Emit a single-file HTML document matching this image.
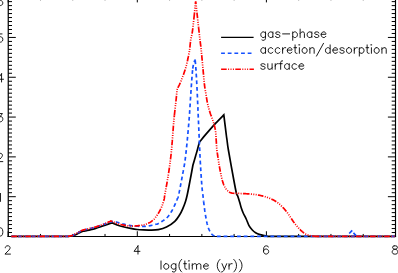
<!DOCTYPE html>
<html><head><meta charset="utf-8"><title>plot</title>
<style>html,body{margin:0;padding:0;background:#fff;font-family:"Liberation Sans",sans-serif}svg{display:block}</style>
</head><body>
<svg width="398" height="273" viewBox="0 0 398 273">
<rect width="398" height="273" fill="#fff"/>
<g stroke="#000" fill="none" stroke-linecap="butt">
<path d="M8.25 -5V237.00" stroke-width="1.2"/>
<path d="M7.55 236.45H396.08" stroke-width="1.1"/>
<path d="M395.50 -5V237.00" stroke-width="1.15"/>
<path d="M8.20 236.50h7.60M395.50 236.50h-7.60M8.20 232.52h3.80M395.50 232.52h-3.80M8.20 228.54h3.80M395.50 228.54h-3.80M8.20 224.56h3.80M395.50 224.56h-3.80M8.20 220.58h3.80M395.50 220.58h-3.80M8.20 216.59h3.80M395.50 216.59h-3.80M8.20 212.61h3.80M395.50 212.61h-3.80M8.20 208.63h3.80M395.50 208.63h-3.80M8.20 204.65h3.80M395.50 204.65h-3.80M8.20 200.67h3.80M395.50 200.67h-3.80M8.20 196.69h7.60M395.50 196.69h-7.60M8.20 192.71h3.80M395.50 192.71h-3.80M8.20 188.73h3.80M395.50 188.73h-3.80M8.20 184.75h3.80M395.50 184.75h-3.80M8.20 180.77h3.80M395.50 180.77h-3.80M8.20 176.78h3.80M395.50 176.78h-3.80M8.20 172.80h3.80M395.50 172.80h-3.80M8.20 168.82h3.80M395.50 168.82h-3.80M8.20 164.84h3.80M395.50 164.84h-3.80M8.20 160.86h3.80M395.50 160.86h-3.80M8.20 156.88h7.60M395.50 156.88h-7.60M8.20 152.90h3.80M395.50 152.90h-3.80M8.20 148.92h3.80M395.50 148.92h-3.80M8.20 144.94h3.80M395.50 144.94h-3.80M8.20 140.96h3.80M395.50 140.96h-3.80M8.20 136.97h3.80M395.50 136.97h-3.80M8.20 132.99h3.80M395.50 132.99h-3.80M8.20 129.01h3.80M395.50 129.01h-3.80M8.20 125.03h3.80M395.50 125.03h-3.80M8.20 121.05h3.80M395.50 121.05h-3.80M8.20 117.07h7.60M395.50 117.07h-7.60M8.20 113.09h3.80M395.50 113.09h-3.80M8.20 109.11h3.80M395.50 109.11h-3.80M8.20 105.13h3.80M395.50 105.13h-3.80M8.20 101.15h3.80M395.50 101.15h-3.80M8.20 97.16h3.80M395.50 97.16h-3.80M8.20 93.18h3.80M395.50 93.18h-3.80M8.20 89.20h3.80M395.50 89.20h-3.80M8.20 85.22h3.80M395.50 85.22h-3.80M8.20 81.24h3.80M395.50 81.24h-3.80M8.20 77.26h7.60M395.50 77.26h-7.60M8.20 73.28h3.80M395.50 73.28h-3.80M8.20 69.30h3.80M395.50 69.30h-3.80M8.20 65.32h3.80M395.50 65.32h-3.80M8.20 61.34h3.80M395.50 61.34h-3.80M8.20 57.35h3.80M395.50 57.35h-3.80M8.20 53.37h3.80M395.50 53.37h-3.80M8.20 49.39h3.80M395.50 49.39h-3.80M8.20 45.41h3.80M395.50 45.41h-3.80M8.20 41.43h3.80M395.50 41.43h-3.80M8.20 37.45h7.60M395.50 37.45h-7.60M8.20 33.47h3.80M395.50 33.47h-3.80M8.20 29.49h3.80M395.50 29.49h-3.80M8.20 25.51h3.80M395.50 25.51h-3.80M8.20 21.53h3.80M395.50 21.53h-3.80M8.20 17.54h3.80M395.50 17.54h-3.80M8.20 13.56h3.80M395.50 13.56h-3.80M8.20 9.58h3.80M395.50 9.58h-3.80M8.20 5.60h3.80M395.50 5.60h-3.80M8.20 1.62h3.80M395.50 1.62h-3.80M8.20 -2.36h7.60M395.50 -2.36h-7.60M8.20 236.45v-5.20M8.20 -2.60v5.00M40.47 236.45v-2.50M40.47 -2.60v2.85M72.75 236.45v-2.50M72.75 -2.60v2.85M105.02 236.45v-2.50M105.02 -2.60v2.85M137.30 236.45v-5.20M137.30 -2.60v5.00M169.57 236.45v-2.50M169.57 -2.60v2.85M201.85 236.45v-2.50M201.85 -2.60v2.85M234.12 236.45v-2.50M234.12 -2.60v2.85M266.40 236.45v-5.20M266.40 -2.60v5.00M298.67 236.45v-2.50M298.67 -2.60v2.85M330.95 236.45v-2.50M330.95 -2.60v2.85M363.22 236.45v-2.50M363.22 -2.60v2.85M395.50 236.45v-5.20M395.50 -2.60v5.00" stroke-width="1"/>
</g>
<g fill="none" stroke-linejoin="miter" stroke-linecap="butt">
<path d="M11.30 236.35C20.92 236.35 59.38 236.35 69.00 236.35C69.58 236.26 71.48 236.04 72.50 235.80C73.52 235.56 74.18 235.28 75.10 234.90C76.02 234.52 77.17 233.92 78.00 233.50C78.83 233.08 79.25 232.77 80.10 232.40C80.95 232.03 82.03 231.60 83.10 231.30C84.17 231.00 85.32 230.85 86.50 230.60C87.68 230.35 88.78 230.13 90.20 229.80C91.62 229.47 93.37 229.08 95.00 228.60C96.63 228.12 98.40 227.43 100.00 226.90C101.60 226.37 103.10 225.90 104.60 225.40C106.10 224.90 107.75 224.33 109.00 223.90C110.25 223.47 111.58 223.03 112.10 222.85C112.42 222.99 113.05 223.29 114.00 223.70C114.95 224.11 116.10 224.75 117.80 225.30C119.50 225.85 122.07 226.48 124.20 227.00C126.33 227.52 128.47 227.98 130.60 228.40C132.73 228.82 134.85 229.24 137.00 229.50C139.15 229.76 141.33 229.86 143.50 229.95C145.67 230.04 147.53 230.11 150.00 230.05C152.47 229.99 155.55 230.09 158.30 229.60C161.05 229.11 163.75 228.47 166.50 227.10C169.25 225.73 172.60 223.45 174.80 221.40C177.00 219.35 178.33 217.00 179.70 214.80C181.07 212.60 182.03 210.40 183.00 208.20C183.97 206.00 184.80 203.80 185.50 201.60C186.20 199.40 186.58 197.77 187.20 195.00C187.82 192.23 188.55 188.33 189.20 185.00C189.85 181.67 190.48 178.28 191.10 175.00C191.72 171.72 192.60 166.92 192.90 165.30C193.35 163.75 194.82 158.72 195.60 156.00C196.38 153.28 196.97 151.30 197.60 149.00C198.23 146.70 199.10 143.33 199.40 142.20C200.25 141.15 202.82 137.92 204.50 135.90C206.18 133.88 207.58 132.27 209.50 130.10C211.42 127.93 213.62 125.43 216.00 122.90C218.38 120.37 222.50 116.23 223.80 114.90C224.22 118.25 225.77 130.82 226.30 135.00C226.83 139.18 226.65 137.50 227.00 140.00C227.35 142.50 227.27 143.33 228.40 150.00C229.53 156.67 232.47 172.80 233.80 180.00C235.13 187.20 235.75 190.53 236.40 193.20C237.05 195.87 237.17 194.53 237.70 196.00C238.23 197.47 239.00 200.00 239.60 202.00C240.20 204.00 240.70 206.17 241.30 208.00C241.90 209.83 242.38 211.17 243.20 213.00C244.02 214.83 245.23 216.90 246.20 219.00C247.17 221.10 247.98 223.77 249.00 225.60C250.02 227.43 251.20 228.82 252.30 230.00C253.40 231.18 254.32 231.93 255.60 232.70C256.88 233.47 258.53 234.12 260.00 234.60C261.47 235.08 263.07 235.31 264.40 235.60C265.73 235.89 267.40 236.22 268.00 236.35C289.25 236.35 374.25 236.35 395.50 236.35" stroke="#000" stroke-width="1.70"/>
<path d="M11.30 236.35L11.56 236.35L11.82 236.35L12.10 236.35L12.40 236.35L12.70 236.35L13.02 236.35L13.35 236.35L13.69 236.35L14.04 236.35L14.40 236.35L14.78 236.35L15.16 236.35L15.55 236.35L15.96 236.35L16.37 236.35L16.80 236.35L17.23 236.35L17.67 236.35L18.12 236.35L18.59 236.35L19.05 236.35L19.53 236.35L20.02 236.35L20.51 236.35L21.01 236.35L21.52 236.35L22.03 236.35L22.55 236.35L23.08 236.35L23.62 236.35L24.16 236.35L24.71 236.35L25.26 236.35L25.82 236.35L26.38 236.35L26.95 236.35L27.52 236.35L28.10 236.35L28.68 236.35L29.27 236.35L29.86 236.35L30.45 236.35L31.05 236.35L31.65 236.35L32.26 236.35L32.86 236.35L33.47 236.35L34.08 236.35L34.70 236.35L35.31 236.35L35.93 236.35L36.55 236.35L37.17 236.35L37.79 236.35L38.41 236.35L39.03 236.35L39.65 236.35L40.27 236.35L40.89 236.35L41.51 236.35L42.13 236.35L42.75 236.35L43.37 236.35L43.99 236.35L44.60 236.35L45.22 236.35L45.83 236.35L46.44 236.35L47.04 236.35L47.65 236.35L48.25 236.35L48.85 236.35L49.44 236.35L50.03 236.35L50.62 236.35L51.20 236.35L51.78 236.35L52.35 236.35L52.92 236.35L53.48 236.35L54.04 236.35L54.59 236.35L55.14 236.35L55.68 236.35L56.22 236.35L56.75 236.35L57.27 236.35L57.78 236.35L58.29 236.35L58.79 236.35L59.28 236.35L59.77 236.35L60.25 236.35L60.71 236.35L61.18 236.35L61.63 236.35L62.07 236.35L62.50 236.35L62.93 236.35L63.34 236.35L63.75 236.35L64.14 236.35L64.52 236.35L64.90 236.35L65.26 236.35L65.61 236.35L65.95 236.35L66.28 236.35L66.60 236.35L66.90 236.35L67.20 236.35L67.48 236.35L67.74 236.35L68.00 236.35L68.26 236.30L68.63 236.24L69.07 236.17L69.54 236.09L70.00 236.00L70.39 235.93L70.79 235.87L71.21 235.80L71.64 235.72L72.07 235.63L72.50 235.50L72.92 235.35L73.35 235.17L73.77 234.97L74.21 234.76L74.65 234.53L75.10 234.30L75.51 234.09L75.93 233.86L76.36 233.63L76.80 233.39L77.22 233.15L77.63 232.92L78.00 232.70L78.46 232.42L78.85 232.15L79.23 231.90L79.64 231.65L80.10 231.40L80.48 231.22L80.88 231.04L81.30 230.86L81.74 230.68L82.19 230.51L82.64 230.35L83.10 230.20L83.56 230.07L84.03 229.95L84.51 229.83L85.00 229.73L85.50 229.62L86.00 229.52L86.50 229.40L86.94 229.29L87.38 229.19L87.82 229.08L88.26 228.97L88.72 228.86L89.19 228.75L89.68 228.63L90.20 228.50L90.63 228.39L91.09 228.29L91.55 228.17L92.03 228.06L92.52 227.94L93.01 227.82L93.51 227.70L94.01 227.57L94.51 227.44L95.00 227.30L95.45 227.17L95.90 227.03L96.36 226.89L96.82 226.75L97.28 226.60L97.74 226.45L98.20 226.30L98.66 226.15L99.11 226.00L99.56 225.85L100.00 225.70L100.48 225.54L100.96 225.38L101.45 225.21L101.93 225.05L102.40 224.88L102.87 224.72L103.32 224.56L103.76 224.40L104.19 224.25L104.60 224.10L105.09 223.92L105.54 223.75L105.98 223.58L106.40 223.41L106.81 223.25L107.21 223.10L107.60 222.95L108.00 222.80L108.46 222.64L108.92 222.47L109.37 222.32L109.81 222.17L110.23 222.03L110.63 221.91L111.00 221.80L111.50 221.68L111.97 221.58L112.39 221.50L112.74 221.44L113.00 221.40L113.28 221.45L113.65 221.52L114.10 221.60L114.59 221.69L115.11 221.78L115.63 221.89L116.13 221.99L116.60 222.10L117.03 222.21L117.46 222.33L117.88 222.45L118.30 222.58L118.72 222.71L119.14 222.84L119.57 222.97L120.00 223.10L120.43 223.23L120.87 223.35L121.30 223.47L121.74 223.60L122.18 223.72L122.64 223.85L123.11 223.97L123.60 224.10L124.01 224.20L124.44 224.30L124.87 224.41L125.32 224.51L125.77 224.62L126.23 224.72L126.68 224.82L127.13 224.92L127.57 225.01L128.00 225.10L128.46 225.19L128.90 225.28L129.33 225.37L129.75 225.45L130.18 225.53L130.61 225.60L131.05 225.67L131.51 225.74L132.00 225.80L132.41 225.85L132.83 225.89L133.25 225.94L133.68 225.98L134.12 226.01L134.57 226.05L135.03 226.08L135.50 226.11L135.99 226.14L136.49 226.17L137.00 226.20L137.42 226.22L137.85 226.25L138.29 226.27L138.75 226.30L139.21 226.32L139.68 226.35L140.16 226.37L140.64 226.39L141.12 226.40L141.60 226.41L142.08 226.42L142.56 226.42L143.03 226.41L143.50 226.40L143.97 226.38L144.44 226.35L144.92 226.32L145.40 226.28L145.88 226.24L146.36 226.19L146.84 226.14L147.32 226.09L147.79 226.03L148.25 225.97L148.71 225.91" stroke="#1450ff" stroke-width="1.70" stroke-dasharray="3.8 2.9"/>
<path d="M148.71 225.91L149.15 225.84L149.58 225.77L150.00 225.70L150.52 225.60L151.02 225.49L151.52 225.38L152.00 225.25L152.47 225.12L152.93 224.99L153.37 224.86L153.80 224.73L154.21 224.61L154.61 224.50L155.00 224.40L155.52 224.30L155.92 224.27L156.28 224.27L156.63 224.25L157.05 224.16L157.59 223.96L158.30 223.60L158.60 223.43L158.94 223.25L159.30 223.04L159.68 222.82L160.08 222.58L160.50 222.33L160.94 222.07L161.38 221.79L161.83 221.51L162.29 221.21L162.75 220.91L163.22 220.60L163.67 220.29L164.12 219.98L164.56 219.66L164.99 219.35L165.40 219.03L165.79 218.72L166.16 218.41L166.50 218.10L166.88 217.74L167.25 217.37L167.60 217.00L167.93 216.62L168.26 216.24L168.57 215.85L168.87 215.46L169.16 215.07L169.45 214.67L169.72 214.27L169.99 213.87L170.25 213.47L170.51 213.08L170.76 212.68L171.01 212.28L171.26 211.89L171.50 211.50L171.77 211.06L172.03 210.61L172.28 210.17L172.53 209.72L172.76 209.27L172.99 208.82L173.21 208.37L173.42 207.93L173.63 207.48L173.83 207.04L174.03 206.60L174.22 206.17L174.42 205.74L174.61 205.32L174.80 204.90L175.02 204.42L175.23 203.95L175.44 203.47L175.64 203.00L175.83 202.53L176.03 202.07L176.21 201.62L176.39 201.17L176.56 200.73L176.73 200.31L176.89 199.89" stroke="#1450ff" stroke-width="1.70" stroke-dasharray="3.8 2.9"/>
<path d="M176.89 199.89L177.05 199.49L177.20 199.10L177.39 198.66L177.53 198.38L177.65 198.20L177.75 198.03L177.86 197.82L177.99 197.48L178.14 196.95L178.34 196.14L178.60 195.00L178.67 194.70L178.74 194.37L178.81 194.03L178.89 193.67L178.96 193.30L179.05 192.90L179.13 192.49L179.22 192.07L179.31 191.64L179.40 191.19L179.49 190.72L179.59 190.25L179.68 189.77L179.78 189.27L179.88 188.77L179.98 188.26L180.08 187.74L180.19 187.21L180.29 186.68L180.40 186.14L180.50 185.60L180.61 185.05L180.71 184.50L180.82 183.95L180.93 183.40L181.03 182.84L181.14 182.29L181.24 181.74L181.35 181.19L181.45 180.64L181.56 180.10L181.66 179.56L181.76 179.02L181.86 178.49L181.95 177.97L182.05 177.45L182.14 176.94L182.24 176.44L182.33 175.95L182.41 175.47L182.50 175.00L182.59 174.49L182.68 174.00L182.77 173.52L182.86 173.06L182.95 172.60L183.03 172.15L183.12 171.72L183.20 171.29L183.28 170.86L183.36 170.44L183.45 170.03L183.53 169.62L183.60 169.21L183.68 168.80L183.76 168.39L183.84 167.98L183.92 167.57L183.99 167.15L184.07 166.73L184.15 166.30L184.22 165.86L184.30 165.42L184.38 164.96L184.45 164.50L184.53 164.03L184.61 163.54L184.68 163.03L184.76 162.52L184.84 161.98L184.92 161.43L185.00 160.86L185.08 160.28L185.16 159.67L185.25 159.04L185.33 158.38L185.41 157.70L185.50 157.00L185.55 156.62L185.59 156.24L185.64 155.85L185.68 155.45L185.73 155.05L185.78 154.64L185.82 154.23L185.87 153.80L185.92 153.38L185.97 152.95L186.02 152.51L186.06 152.06L186.11 151.62L186.16 151.16L186.21 150.71L186.26 150.24L186.31 149.78L186.36 149.30L186.41 148.83L186.46 148.35L186.51 147.86L186.56 147.38L186.61 146.89L186.66 146.39L186.71 145.89L186.76 145.39L186.81 144.89L186.86 144.38L186.91 143.87L186.97 143.36L187.02 142.84L187.07 142.33L187.12 141.81L187.17 141.29L187.22 140.76L187.27 140.24L187.32 139.71L187.37 139.18L187.42 138.66L187.47 138.13L187.52 137.59L187.57 137.06L187.62 136.53L187.67 136.00L187.72 135.47L187.77 134.93L187.82 134.40L187.87 133.87L187.91 133.33L187.96 132.80L188.01 132.27L188.06 131.74L188.11 131.21L188.15 130.68L188.20 130.15L188.25 129.63L188.29 129.10L188.34 128.58L188.38 128.06L188.43 127.54L188.47 127.02L188.52 126.51L188.56 126.00L188.61 125.49L188.65 124.98L188.69 124.47L188.74 123.97L188.78 123.47L188.82 122.98L188.86 122.49L188.90 122.00L188.94 121.50L188.98 121.00L189.02 120.49L189.06 119.98L189.10 119.47L189.14 118.96L189.18 118.45L189.22 117.93L189.26 117.42L189.30 116.90L189.34 116.38L189.37 115.86L189.41 115.34L189.45 114.81L189.48 114.29L189.52 113.77L189.56 113.24L189.59 112.72L189.63 112.19L189.66 111.67L189.70 111.14L189.74 110.61L189.77 110.09L189.81 109.56L189.84 109.04L189.87 108.51L189.91 107.99L189.94 107.47L189.98 106.94L190.01 106.42L190.04 105.90L190.07 105.38L190.11 104.86L190.14 104.35L190.17 103.83L190.20 103.32L190.24 102.80L190.27 102.29L190.30 101.78L190.33 101.28L190.36 100.77L190.39 100.27L190.43 99.77L190.46 99.28L190.49 98.78L190.52 98.29L190.55 97.80L190.58 97.31L190.61 96.83L190.64 96.35L190.67 95.88L190.70 95.40L190.73 94.93L190.76 94.47L190.79 94.01L190.82 93.55L190.85 93.09L190.88 92.64L190.91 92.20L190.94 91.76L190.97 91.32L191.00 90.89L191.03 90.46L191.05 90.04L191.08 89.62L191.11 89.21L191.14 88.80L191.17 88.40L191.20 88.00L191.25 87.34L191.30 86.69L191.34 86.05L191.39 85.42L191.43 84.79L191.48 84.18L191.52 83.57L191.56 82.97L191.60 82.38L191.65 81.80L191.69 81.23L191.73 80.66L191.77 80.10L191.81 79.55L191.84 79.01L191.88 78.48L191.92 77.96L191.96 77.44L192.00 76.93L192.04 76.43L192.08 75.94L192.11 75.45L192.15 74.97L192.19 74.50L192.23 74.04L192.27 73.58L192.31 73.13L192.34 72.69L192.38 72.26L192.42 71.83L192.46 71.41L192.50 71.00L192.55 70.59L192.59 70.20L192.63 69.81L192.67 69.42L192.72 69.04L192.76 68.67" stroke="#1450ff" stroke-width="1.70" stroke-dasharray="3.8 2.9"/>
<path d="M192.76 68.67L192.81 68.31L192.85 67.95L192.90 67.60L193.02 66.79L193.15 66.03L193.29 65.33L193.43 64.68L193.58 64.07L193.73 63.51L193.88 62.98L194.03 62.50L194.18 62.06L194.33 61.64L194.47 61.26L194.60 60.91L194.72 60.59L194.84 60.29L194.94 60.01L195.03 59.75L195.10 59.50L195.12 59.75L195.15 60.01L195.18 60.29" stroke="#1450ff" stroke-width="1.70" stroke-dasharray="3.8 2.9"/>
<path d="M195.18 60.29L195.21 60.59L195.24 60.91L195.28 61.26L195.31 61.64L195.35 62.06L195.40 62.50L195.44 62.98L195.49 63.51L195.54 64.07L195.59 64.68L195.64 65.33L195.69 66.03L195.74 66.79L195.80 67.60L195.82 67.95L195.85 68.31L195.87 68.67L195.90 69.04L195.92 69.42L195.95 69.81L195.97 70.20L196.00 70.59L196.02 71.00L196.05 71.41L196.08 71.83L196.11 72.26L196.13 72.69L196.16 73.13L196.19 73.58L196.22 74.04L196.25 74.50L196.28 74.97L196.31 75.45L196.34 75.94L196.36 76.43L196.40 76.93L196.43 77.44L196.46 77.96L196.49 78.48L196.52 79.01L196.55 79.55L196.58 80.10L196.61 80.66L196.64 81.23L196.68 81.80L196.71 82.38L196.74 82.97L196.77 83.57L196.80 84.18L196.84 84.79L196.87 85.42L196.90 86.05L196.93 86.69L196.97 87.34L197.00 88.00L197.02 88.40L197.04 88.80L197.06 89.20L197.08 89.61L197.10 90.03L197.12 90.45L197.14 90.87L197.16 91.30L197.18 91.73L197.20 92.17L197.22 92.61L197.24 93.06L197.26 93.50L197.28 93.96L197.30 94.41L197.32 94.87L197.34 95.33L197.36 95.80L197.39 96.27L197.41 96.74L197.43 97.22L197.45 97.70L197.47 98.18L197.49 98.66L197.51 99.15L197.53 99.64L197.56 100.13L197.58 100.63L197.60 101.12L197.62 101.62L197.64 102.13L197.66 102.63L197.69 103.14L197.71 103.65L197.73 104.16L197.75 104.67L197.77 105.18L197.80 105.70L197.82 106.21L197.84 106.73L197.86 107.25L197.88 107.77L197.91 108.29L197.93 108.82L197.95 109.34L197.97 109.87L198.00 110.39L198.02 110.92L198.04 111.45L198.06 111.97L198.09 112.50L198.11 113.03L198.13 113.56L198.16 114.09L198.18 114.62L198.20 115.15L198.22 115.68L198.25 116.21L198.27 116.74L198.29 117.27L198.32 117.80L198.34 118.32L198.36 118.85L198.38 119.38L198.41 119.90L198.43 120.43L198.45 120.95L198.48 121.48L198.50 122.00L198.52 122.47L198.54 122.94L198.56 123.42L198.58 123.90L198.60 124.38L198.63 124.86L198.65 125.35L198.67 125.84L198.69 126.34L198.71 126.83L198.73 127.33L198.75 127.83L198.78 128.34L198.80 128.84L198.82 129.35L198.84 129.86L198.86 130.37L198.89 130.88L198.91 131.39L198.93 131.91L198.95 132.43L198.97 132.94L199.00 133.46L199.02 133.98L199.04 134.50L199.06 135.03L199.09 135.55L199.11 136.07L199.13 136.59L199.15 137.12L199.17 137.64L199.20 138.16L199.22 138.69L199.24 139.21L199.26 139.73L199.29 140.26L199.31 140.78L199.33 141.30L199.36 141.82L199.38 142.34L199.40 142.86L199.42 143.38L199.45 143.90L199.47 144.41L199.49 144.93L199.51 145.44L199.54 145.95L199.56 146.46L199.58 146.97L199.60 147.48L199.63 147.98L199.65 148.48L199.67 148.98L199.69 149.48L199.72 149.97L199.74 150.47L199.76 150.96L199.78 151.44L199.81 151.93L199.83 152.41L199.85 152.88L199.87 153.36L199.89 153.83L199.92 154.30L199.94 154.76L199.96 155.22L199.98 155.67L200.00 156.13L200.03 156.57L200.05 157.02L200.07 157.46L200.09 157.89L200.11 158.32L200.14 158.75L200.16 159.17L200.18 159.59L200.20 160.00L200.23 160.62L200.26 161.23L200.30 161.83L200.33 162.44L200.36 163.03L200.40 163.63L200.43 164.22L200.46 164.80L200.49 165.38L200.53 165.96L200.56 166.53L200.59 167.09L200.63 167.66L200.66 168.21L200.69 168.76L200.73 169.31L200.76 169.85L200.79 170.39L200.83 170.92L200.86 171.45L200.89 171.97L200.92 172.48L200.96 173.00L200.99 173.50L201.02 174.00L201.05 174.50L201.09 174.99L201.12 175.47L201.15 175.95L201.18 176.42L201.21 176.89L201.24 177.35L201.28 177.81L201.31 178.26L201.34 178.70L201.37 179.14L201.40 179.58L201.43 180.00L201.46 180.42L201.49 180.84L201.52 181.25L201.55 181.65L201.58 182.05L201.61 182.44L201.64 182.83L201.66 183.20L201.69 183.58L201.72 183.94L201.75 184.30L201.77 184.65L201.80 185.00L201.86 185.79L201.92 186.51L201.98 187.16L202.03 187.75L202.08 188.28L202.12 188.76L202.17 189.20L202.22 189.61L202.26 189.99L202.30 190.36L202.35 190.70L202.39 191.05L202.44 191.39L202.49 191.74L202.53 192.11L202.59 192.49L202.64 192.91L202.70 193.36L202.76 193.86L202.83 194.40L202.90 195.00L202.95 195.40L202.99 195.81L203.04 196.23L203.09 196.66L203.14 197.11L203.19 197.57L203.24 198.03L203.30 198.51L203.35 198.99L203.41 199.48L203.46 199.97L203.52 200.48L203.58 200.98L203.63 201.50" stroke="#1450ff" stroke-width="1.70" stroke-dasharray="3.8 2.9"/>
<path d="M203.63 201.50L203.69 202.01L203.75 202.53L203.81 203.05L203.87 203.57L203.93 204.09L204.00 204.62L204.06 205.14L204.12 205.66L204.18 206.18L204.25 206.69L204.31 207.20L204.38 207.71L204.44 208.21L204.51 208.70L204.57 209.19L204.64 209.67L204.70 210.14L204.77 210.60L204.83 211.06L204.90 211.50L204.98 212.05L205.07 212.60L205.16 213.15L205.24 213.69L205.33 214.24L205.42 214.78L205.51 215.32L205.60 215.86L205.70 216.39L205.79 216.92L205.88 217.44L205.98 217.96L206.07 218.47L206.17 218.97L206.26 219.47L206.36 219.96L206.45 220.44L206.55 220.91L206.64 221.38L206.74 221.83L206.83 222.27L206.93 222.71L207.02 223.13L207.12 223.54L207.21 223.94L207.31 224.33L207.40 224.70L207.57 225.34L207.73 225.94L207.90 226.50L208.07 227.02L208.24 227.51L208.40 227.97L208.57 228.41L208.74 228.82L208.91 229.21L209.07 229.59L209.24 229.95L209.41 230.30L209.57 230.64L209.74 230.97L209.90 231.30L210.17 231.82L210.42 232.28L210.67 232.70L210.92 233.08L211.18 233.42L211.44 233.74L211.71 234.03L211.99 234.32L212.30 234.60L212.69 234.90L213.14 235.19L213.62 235.45L214.10 235.68L214.56 235.89L214.99 236.07L215.34 236.23L215.60 236.35L215.85 236.35L216.11 236.35L216.37 236.35L216.63 236.35L216.90 236.35" stroke="#1450ff" stroke-width="1.70" stroke-dasharray="3.8 2.9"/>
<path d="M216.90 236.35L217.17 236.35L217.45 236.35L217.73 236.35L218.01 236.35L218.30 236.35L218.60 236.35L218.89 236.35L219.19 236.35L219.50 236.35L219.80 236.35L220.12 236.35L220.43 236.35L220.75 236.35L221.07 236.35L221.40 236.35L221.73 236.35L222.06 236.35L222.40 236.35L222.74 236.35L223.09 236.35L223.44 236.35L223.79 236.35L224.14 236.35L224.50 236.35L224.87 236.35L225.23 236.35L225.60 236.35L225.97 236.35L226.35 236.35L226.73 236.35L227.11 236.35L227.50 236.35L227.89 236.35L228.28 236.35L228.68 236.35L229.08 236.35L229.48 236.35L229.89 236.35L230.30 236.35L230.71 236.35L231.12 236.35L231.54 236.35L231.96 236.35L232.39 236.35L232.82 236.35L233.25 236.35L233.68 236.35L234.12 236.35L234.56 236.35L235.00 236.35L235.44 236.35L235.89 236.35L236.34 236.35L236.80 236.35L237.25 236.35L237.71 236.35L238.18 236.35L238.64 236.35L239.11 236.35L239.58 236.35L240.05 236.35L240.53 236.35L241.01 236.35L241.49 236.35L241.97 236.35L242.46 236.35L242.94 236.35L243.44 236.35L243.93 236.35L244.43 236.35L244.92 236.35L245.42 236.35L245.93 236.35L246.43 236.35L246.94 236.35L247.45 236.35L247.96 236.35L248.48 236.35L248.99 236.35L249.51 236.35L250.04 236.35L250.56 236.35L251.08 236.35L251.61 236.35L252.14 236.35L252.67 236.35L253.21 236.35L253.74 236.35L254.28 236.35L254.82 236.35L255.36 236.35L255.91 236.35L256.45 236.35L257.00 236.35L257.55 236.35L258.10 236.35L258.66 236.35L259.21 236.35L259.77 236.35L260.33 236.35L260.89 236.35L261.45 236.35L262.01 236.35L262.58 236.35L263.15 236.35L263.72 236.35" stroke="#1450ff" stroke-width="1.70" stroke-dasharray="3.8 2.9"/>
<path d="M263.72 236.35L264.29 236.35L264.86 236.35L265.43 236.35L266.01 236.35L266.58 236.35L267.16 236.35L267.74 236.35L268.32 236.35L268.90 236.35L269.49 236.35L270.07 236.35L270.66 236.35L271.25 236.35L271.84 236.35L272.43 236.35L273.02 236.35L273.61 236.35L274.20 236.35L274.80 236.35L275.40 236.35L275.99 236.35L276.59 236.35L277.19 236.35L277.79 236.35L278.39 236.35L279.00 236.35L279.60 236.35L280.20 236.35L280.81 236.35L281.42 236.35L282.02 236.35L282.63 236.35L283.24 236.35L283.85 236.35L284.46 236.35L285.08 236.35L285.69 236.35L286.30 236.35L286.91 236.35L287.53 236.35L288.14 236.35L288.76 236.35L289.38 236.35L289.99 236.35L290.61 236.35L291.23 236.35L291.85 236.35L292.47 236.35L293.09 236.35L293.71 236.35L294.33 236.35L294.95 236.35L295.57 236.35L296.19 236.35L296.82 236.35L297.44 236.35L298.06 236.35L298.68 236.35L299.31 236.35L299.93 236.35L300.55 236.35L301.18 236.35L301.80 236.35L302.43 236.35L303.05 236.35L303.68 236.35L304.30 236.35L304.93 236.35L305.55 236.35L306.17 236.35L306.80 236.35L307.42 236.35L308.05 236.35L308.67 236.35L309.30 236.35L309.92 236.35L310.55 236.35L311.17 236.35L311.79 236.35L312.42 236.35L313.04 236.35L313.66 236.35L314.28 236.35L314.91 236.35L315.53 236.35L316.15 236.35L316.77 236.35L317.39 236.35L318.01 236.35L318.63 236.35L319.25 236.35L319.87 236.35L320.49 236.35L321.11 236.35L321.72 236.35L322.34 236.35L322.96 236.35L323.57 236.35L324.19 236.35L324.80 236.35L325.41 236.35L326.02 236.35L326.64 236.35L327.25 236.35L327.86 236.35L328.47 236.35L329.08 236.35L329.68 236.35L330.29 236.35L330.90 236.35L331.50 236.35L332.10 236.35L332.71 236.35L333.31 236.35L333.91 236.35L334.51 236.35L335.11 236.35L335.70 236.35L336.30 236.35L336.90 236.35L337.49 236.35L338.08 236.35L338.67 236.35L339.26 236.35L339.85 236.35L340.44 236.35L341.03 236.35L341.61 236.35L342.20 236.35L342.78 236.35L343.36 236.35L343.94 236.35L344.52 236.35L345.09 236.35L345.67 236.35L346.24 236.35L346.81 236.35L347.38 236.35L347.95 236.35L348.52 236.35L349.09 236.35L349.65 236.35L350.21 236.35L350.77 236.35L351.33 236.35L351.89 236.35L352.44 236.35L353.00 236.35L353.55 236.35L354.10 236.35L354.65 236.35L355.19 236.35L355.74 236.35L356.28 236.35L356.82 236.35L357.36 236.35L357.89 236.35L358.43 236.35L358.96 236.35L359.49 236.35L360.02 236.35L360.54 236.35L361.06 236.35L361.59 236.35L362.11 236.35L362.62 236.35L363.14 236.35L363.65 236.35L364.16 236.35L364.67 236.35L365.17 236.35L365.68 236.35L366.18 236.35L366.67 236.35L367.17 236.35L367.66 236.35L368.16 236.35L368.64 236.35L369.13 236.35L369.61 236.35L370.09 236.35L370.57 236.35L371.05 236.35L371.52 236.35L371.99 236.35L372.46 236.35L372.92 236.35L373.39 236.35L373.85 236.35L374.30 236.35L374.76 236.35L375.21 236.35L375.66 236.35L376.10 236.35L376.54 236.35L376.98 236.35L377.42 236.35L377.85 236.35L378.28 236.35L378.71 236.35L379.14 236.35L379.56 236.35L379.98 236.35L380.39 236.35L380.80 236.35L381.21 236.35L381.62 236.35L382.02 236.35L382.42 236.35L382.82 236.35L383.21 236.35L383.60 236.35L383.99 236.35L384.37 236.35L384.75 236.35L385.13 236.35L385.50 236.35L385.87 236.35L386.23 236.35L386.60 236.35L386.96 236.35L387.31 236.35L387.66 236.35L388.01 236.35L388.36 236.35L388.70 236.35L389.04 236.35L389.37 236.35L389.70 236.35L390.03 236.35L390.35 236.35L390.67 236.35L390.98 236.35L391.30 236.35L391.60 236.35L391.91 236.35L392.21 236.35L392.50 236.35L392.80 236.35L393.09 236.35L393.37 236.35L393.65 236.35L393.93 236.35L394.20 236.35L394.47 236.35L394.73 236.35L394.99 236.35L395.25 236.35L395.50 236.35" stroke="#1450ff" stroke-width="1.70" stroke-dasharray="3.8 2.9"/>
<path d="M349.2 233.5L352.25 230.35M353.45 232.9L356.2 235.8" stroke="#1450ff" stroke-width="1.70"/>
<path d="M11.30 236.35L11.56 236.35L11.82 236.35L12.10 236.35L12.40 236.35L12.70 236.35L13.02 236.35L13.35 236.35L13.69 236.35L14.04 236.35L14.40 236.35L14.78 236.35L15.16 236.35L15.55 236.35L15.96 236.35L16.37 236.35L16.80 236.35L17.23 236.35L17.67 236.35L18.12 236.35L18.59 236.35L19.05 236.35L19.53 236.35L20.02 236.35L20.51 236.35L21.01 236.35L21.52 236.35L22.03 236.35L22.55 236.35L23.08 236.35L23.62 236.35L24.16 236.35L24.71 236.35L25.26 236.35L25.82 236.35L26.38 236.35L26.95 236.35L27.52 236.35L28.10 236.35L28.68 236.35L29.27 236.35L29.86 236.35L30.45 236.35L31.05 236.35L31.65 236.35L32.26 236.35L32.86 236.35L33.47 236.35L34.08 236.35L34.70 236.35L35.31 236.35L35.93 236.35L36.55 236.35L37.17 236.35L37.79 236.35L38.41 236.35L39.03 236.35L39.65 236.35L40.27 236.35L40.89 236.35L41.51 236.35L42.13 236.35L42.75 236.35L43.37 236.35L43.99 236.35L44.60 236.35L45.22 236.35L45.83 236.35L46.44 236.35L47.04 236.35L47.65 236.35L48.25 236.35L48.85 236.35L49.44 236.35L50.03 236.35L50.62 236.35L51.20 236.35L51.78 236.35L52.35 236.35L52.92 236.35L53.48 236.35L54.04 236.35L54.59 236.35L55.14 236.35L55.68 236.35L56.22 236.35L56.75 236.35L57.27 236.35L57.78 236.35L58.29 236.35L58.79 236.35L59.28 236.35L59.77 236.35L60.25 236.35L60.71 236.35L61.18 236.35L61.63 236.35L62.07 236.35L62.50 236.35L62.93 236.35L63.34 236.35L63.75 236.35L64.14 236.35L64.52 236.35L64.90 236.35L65.26 236.35L65.61 236.35L65.95 236.35L66.28 236.35L66.60 236.35L66.90 236.35L67.20 236.35L67.48 236.35L67.74 236.35" stroke="#ff0000" stroke-width="1.70" stroke-dasharray="5.6 1.38 1 1.38 1 1.38 1 1.33"/>
<path d="M67.74 236.35L68.00 236.35L68.26 236.31L68.63 236.25L69.07 236.17L69.54 236.09L70.00 236.00L70.39 235.92L70.79 235.84L71.21 235.76L71.64 235.66L72.07 235.54L72.50 235.40L72.92 235.23L73.35 235.03L73.77 234.81L74.21 234.58L74.65 234.34L75.10 234.10L75.51 233.88L75.93 233.66L76.36 233.42L76.80 233.18L77.22 232.94L77.63 232.72L78.00 232.50L78.46 232.22L78.85 231.95L79.23 231.70L79.64 231.45L80.10 231.20L80.48 231.02L80.88 230.84L81.30 230.66L81.74 230.48L82.19 230.31L82.64 230.15L83.10 230.00L83.56 229.87L84.03 229.75L84.51 229.63L85.00 229.53L85.50 229.42L86.00 229.32L86.50 229.20L86.94 229.09L87.38 228.99L87.82 228.88L88.26 228.78L88.72 228.66L89.19 228.55L89.68 228.43L90.20 228.30L90.63 228.19L91.09 228.09L91.55 227.97L92.03 227.86L92.52 227.74L93.01 227.62L93.51 227.50L94.01 227.37L94.51 227.24L95.00 227.10L95.45 226.97L95.90 226.83L96.36 226.70L96.82 226.55L97.28 226.41L97.74 226.26L98.20 226.11L98.66 225.95L99.11 225.80L99.56 225.65L100.00 225.50L100.48 225.33L100.96 225.16L101.45 224.99L101.93 224.82L102.40 224.64L102.87 224.47L103.32 224.30L103.76 224.13L104.19 223.96L104.60 223.80L105.09 223.60L105.55 223.41L105.98 223.21L106.41 223.03L106.81 222.84L107.21 222.66L107.61 222.48L108.00 222.30L108.47 222.09L108.95 221.88L109.43 221.66L109.89 221.46L110.30 221.27L110.64 221.12L110.90 221.00L111.18 221.11L111.58 221.26L112.04 221.43L112.54 221.62L113.04 221.82L113.50 222.00L113.92 222.18L114.32 222.36L114.72 222.55L115.13 222.74L115.55 222.92L116.00 223.10L116.39 223.25L116.78 223.39L117.18 223.53L117.60 223.67L118.05 223.81L118.55 223.95L119.10 224.10L119.49 224.20L119.92 224.30L120.38 224.40L120.85 224.51L121.34 224.62L121.84 224.72L122.34 224.83L122.83 224.93L123.31 225.02L123.77 225.11L124.20 225.20L124.70 225.30L125.18 225.39L125.64 225.48L126.09 225.57L126.53 225.65L126.96 225.72L127.38 225.79L127.79 225.85L128.20 225.90L128.71 225.96L129.19 226.00L129.65 226.04L130.11 226.06L130.56 226.08L131.02 226.09L131.50 226.10L131.92 226.10L132.35 226.10L132.78 226.10L133.21 226.09L133.64 226.07L134.09 226.05L134.54 226.03L135.00 226.00L135.43 225.97L135.86 225.93L136.31 225.89L136.77 225.85L137.23 225.80L137.69 225.75L138.14 225.70L138.57 225.65L139.00 225.60L139.46 225.55L139.91 225.49L140.35 225.44L140.78 225.38L141.21 225.32L141.64 225.26L142.07 225.18L142.50 225.10L142.93 225.01L143.36 224.92L143.79 224.83L144.22 224.73L144.65 224.62L145.09 224.50L145.54 224.36L146.00 224.20L146.43 224.04L146.87 223.87L147.33 223.68L147.80 223.48L148.26 223.28L148.72 223.06L149.17 222.84L149.60 222.62L150.00 222.40L150.44 222.14L150.86 221.85L151.28 221.55L151.68 221.25L152.06 220.95L152.41 220.67L152.72 220.42L153.00 220.20L153.39 219.96L153.57 219.84L154.10 219.20L154.29 218.95L154.51 218.67L154.76 218.36L155.02 218.01L155.30 217.64L155.60 217.25L155.91 216.85L156.22 216.43L156.54 215.99L156.85 215.56L157.16 215.11L157.47 214.68L157.76 214.24L158.04 213.81L158.30 213.40L158.55 212.99L158.79 212.58L159.03 212.17L159.27 211.76L159.50 211.34L159.73 210.92L159.95 210.50L160.17 210.07L160.39 209.65L160.60 209.21L160.81 208.78L161.01 208.34L161.21 207.90L161.41 207.45L161.60 207.00L161.78 206.57L161.95 206.12L162.13 205.67L162.30 205.20L162.47 204.73L162.64 204.25L162.80 203.78L162.96 203.30L163.11 202.83L163.26 202.36L163.40 201.90L163.53 201.45L163.66 201.01L163.78 200.59L163.90 200.19L164.00 199.80L164.13 199.29L164.22 198.93L164.27 198.66L164.31 198.44L164.33 198.20L164.36 197.90L164.41 197.48L164.49 196.89L164.62 196.08L164.80 195.00L164.85 194.69L164.91 194.36L164.97 194.01L165.04 193.65L165.11 193.28L165.18 192.88L165.25 192.48L165.32 192.06L165.40 191.63L165.48 191.18L165.57 190.73L165.65 190.26L165.74 189.78L165.83 189.30L165.92 188.80L166.01 188.30L166.10 187.79L166.19 187.27L166.29 186.75L166.38 186.22L166.48 185.68L166.58 185.14L166.67 184.60L166.77 184.06L166.87 183.51L166.96 182.96L167.06 182.41L167.16 181.86L167.25 181.31L167.35 180.77L167.44 180.22L167.53 179.68L167.63 179.14L167.72 178.60L167.81 178.07L167.89 177.54L167.98 177.02L168.06 176.50L168.14 175.99L168.22 175.49L168.30 175.00L168.38 174.51L168.45 174.02L168.53 173.53L168.60 173.04L168.67 172.54L168.75 172.05L168.82 171.55L168.90 171.05L168.97 170.55L169.04 170.05L169.11 169.56L169.19 169.06L169.26 168.56L169.33 168.06L169.40 167.56L169.47 167.06L169.54 166.56L169.61 166.06L169.67 165.56L169.74 165.06L169.81 164.56L169.87 164.07L169.94 163.57L170.01 163.08L170.07 162.59L170.13 162.10L170.20 161.61L170.26 161.12L170.32 160.63L170.38 160.15L170.44 159.67L170.50 159.19L170.56 158.71L170.62 158.24L170.68 157.77L170.73 157.30L170.79 156.83L170.84 156.37L170.90 155.91L170.95 155.45L171.00 155.00L171.06 154.47L171.12 153.95L171.17 153.44L171.23 152.93L171.28 152.42L171.33 151.92L171.38 151.42L171.43 150.93L171.47 150.44L171.52 149.95L171.56 149.47L171.61 148.99L171.65 148.51L171.69 148.03L171.73 147.56L171.77 147.08L171.81 146.61L171.85 146.14L171.89 145.67L171.93 145.20L171.96 144.73L172.00 144.26L172.04 143.79L172.08 143.32L172.11 142.84L172.15 142.37L172.19 141.89L172.23 141.42L172.26 140.94L172.30 140.45L172.34 139.97L172.38 139.48L172.42 138.99L172.46 138.50L172.50 138.00L172.54 137.53L172.58 137.05L172.61 136.58L172.65 136.11L172.69 135.64L172.72 135.16L172.76 134.69L172.79 134.22L172.83 133.74L172.86 133.27L172.90 132.79L172.93 132.32L172.97 131.84L173.00 131.36L173.04 130.89L173.07 130.41L173.10 129.93L173.14 129.45L173.17 128.97L173.21 128.48L173.24 128.00L173.28 127.51L173.32 127.02L173.35 126.53L173.39 126.04L173.43 125.55L173.47 125.06L173.51 124.56L173.55 124.06L173.59 123.56L173.63 123.06L173.67 122.56L173.71 122.05L173.76 121.54L173.81 121.03L173.85 120.52L173.90 120.00L173.94 119.53L173.99 119.05L174.04 118.56L174.09 118.07L174.14 117.57L174.19 117.06L174.24 116.55L174.30 116.03L174.35 115.51" stroke="#ff0000" stroke-width="1.70" stroke-dasharray="5.6 1.38 1 1.38 1 1.38 1 1.33"/>
<path d="M174.35 115.51L174.41 114.98L174.46 114.46L174.52 113.92L174.58 113.39L174.64 112.85L174.70 112.32L174.76 111.78L174.82 111.24L174.88 110.71L174.94 110.17L175.00 109.64L175.05 109.10L175.11 108.57L175.17 108.05L175.23 107.52L175.29 107.00L175.35 106.49L175.41 105.98L175.46 105.48L175.52 104.98L175.57 104.49L175.63 104.01L175.68 103.53L175.73 103.06L175.79 102.61L175.83 102.16L175.88 101.72L175.93 101.29L175.97 100.88L176.02 100.47L176.06 100.08L176.10 99.70L176.17 98.98L176.24 98.29L176.31 97.63L176.37 96.98L176.43 96.36L176.49 95.77L176.54 95.20L176.60 94.65L176.64 94.12L176.69 93.61L176.73 93.13L176.78 92.67L176.82 92.22L176.86 91.80L176.89 91.40L176.93 91.02L176.96 90.66L177.00 90.32L177.03 89.99L177.07 89.69L177.10 89.40L177.29 88.22L177.42 88.03L177.50 88.00L177.65 87.77L177.84 87.51L178.07 87.19L178.33 86.79L178.62 86.31L178.95 85.72L179.30 85.00L179.45 84.68L179.60 84.33L179.77 83.97L179.94 83.57L180.12 83.16L180.30 82.73L180.49 82.29L180.68 81.83L180.88 81.36L181.07 80.88L181.27 80.40L181.47 79.91L181.66 79.42L181.86 78.93L182.05 78.44L182.24 77.95L182.42 77.47L182.60 77.00L182.77 76.55L182.93 76.10L183.10 75.63L183.27 75.16L183.44 74.69L183.61 74.21L183.78 73.73L183.95 73.24L184.12 72.76L184.28 72.28L184.44 71.80L184.60 71.32L184.76 70.85L184.91 70.39L185.06 69.93L185.20 69.48L185.34 69.04L185.47 68.61L185.60 68.20L185.76 67.65L185.92 67.12L186.06 66.61L186.20 66.11L186.32 65.62L186.45 65.13L186.56 64.66L186.67 64.20L186.78 63.74L186.89 63.29L186.99 62.84L187.09 62.39L187.20 61.95L187.30 61.50L187.42 60.98L187.53 60.48L187.64 59.98L187.74 59.50L187.84 59.01L187.94 58.54L188.03 58.06L188.13 57.59L188.22 57.12L188.31 56.65L188.41 56.18L188.50 55.70L188.60 55.24L188.69 54.79L188.78 54.37L188.87 53.95L188.97 53.54L189.06 53.11L189.15 52.67L189.24 52.21L189.33 51.73L189.42 51.20L189.51 50.63L189.60 50.00L189.65 49.62L189.70 49.22L189.75 48.80L189.80 48.36L189.84 47.92L189.89 47.46L189.94 46.99L189.98 46.50L190.03 46.02L190.08 45.52L190.12 45.02L190.17 44.51L190.22 44.00L190.27 43.49L190.33 42.98L190.38 42.47L190.44 41.97L190.50 41.47L190.56 40.97L190.63 40.48L190.70 40.00L190.77 39.54L190.84 39.12L190.92 38.73L190.99 38.37L191.07 38.02L191.15 37.69L191.23 37.36L191.31 37.03L191.40 36.70L191.48 36.35L191.57 35.98L191.66 35.59L191.75 35.17L191.85 34.72L191.95 34.22L192.05 33.67L192.15 33.07L192.26 32.41L192.37 31.68L192.48 30.88L192.60 30.00L192.64 29.66L192.69 29.29L192.74 28.91L192.78 28.52L192.83 28.10L192.89 27.67L192.94 27.22L192.99 26.76L193.05 26.29L193.10 25.80L193.16 25.30L193.22 24.79L193.27 24.27L193.33 23.74L193.39 23.20L193.45 22.64L193.51 22.09L193.58 21.52L193.64 20.95L193.70 20.37L193.76 19.79L193.83 19.20L193.89 18.61L193.95 18.01" stroke="#ff0000" stroke-width="1.70" stroke-dasharray="5.6 1.38 1 1.38 1 1.38 1 1.33"/>
<path d="M193.95 18.01L194.02 17.42L194.08 16.82L194.14 16.22L194.21 15.62L194.27 15.03L194.33 14.43L194.39 13.83L194.46 13.24L194.52 12.66L194.58 12.07L194.64 11.50L194.70 10.92L194.76 10.36L194.81 9.80L194.87 9.25L194.93 8.71L194.98 8.18L195.04 7.66L195.09 7.15L195.14 6.65L195.19 6.16L195.24 5.69L195.29 5.23L195.33 4.78L195.38 4.35L195.42 3.94L195.46 3.54L195.50 3.17L195.54 2.80L195.58 2.46L195.61 2.14L195.64 1.84L195.67 1.56L195.70 1.30L195.73 1.56L195.76 1.84L195.79 2.14L195.83 2.45L195.86 2.79L195.90 3.14L195.94 3.52L195.99 3.91L196.03 4.31L196.08 4.73L196.13 5.17L196.17 5.62L196.23 6.08L196.28 6.56L196.33 7.05L196.39 7.55L196.44 8.06L196.50 8.58L196.56 9.11L196.62 9.66L196.68 10.21L196.74 10.77L196.80 11.33L196.87 11.91L196.93 12.49L196.99 13.07L197.06 13.66L197.12 14.26L197.19 14.86L197.26 15.46L197.32 16.06L197.39 16.67L197.46 17.27L197.52 17.88L197.59 18.49L197.66 19.10L197.72 19.71L197.79 20.31L197.86 20.91L197.92 21.51L197.99 22.11L198.05 22.70L198.12 23.29L198.18 23.87L198.24 24.44L198.31 25.01L198.37 25.57L198.43 26.12L198.49 26.67L198.55 27.20" stroke="#ff0000" stroke-width="1.70" stroke-dasharray="5.6 1.38 1 1.38 1 1.38 1 1.33"/>
<path d="M198.55 27.20L198.61 27.73L198.66 28.24L198.72 28.75L198.77 29.24L198.83 29.72L198.88 30.18L198.93 30.64L198.98 31.07L199.02 31.50L199.07 31.91L199.11 32.30L199.15 32.68L199.19 33.03L199.23 33.37L199.27 33.70L199.30 34.00L199.45 35.33L199.56 36.35L199.65 37.13L199.71 37.68L199.76 38.07L199.79 38.33L199.81 38.49L199.83 38.62L199.84 38.73L199.86 38.89L199.89 39.12L199.94 39.48L200.00 40.00L200.05 40.38L200.09 40.76L200.14 41.15L200.19 41.54L200.24 41.93L200.29 42.33L200.34 42.74L200.40 43.16L200.45 43.59L200.51 44.03L200.57 44.48L200.62 44.94L200.68 45.43L200.74 45.93L200.81 46.44L200.87 46.98L200.93 47.54L201.00 48.12L201.06 48.72L201.13 49.35L201.20 50.00L201.24 50.38L201.28 50.78L201.32 51.19L201.36 51.61L201.41 52.04L201.45 52.47L201.49 52.92L201.54 53.38L201.58 53.84L201.63 54.32L201.67 54.80L201.72 55.28L201.76 55.77L201.81 56.27L201.86 56.77L201.91 57.28L201.95 57.79L202.00 58.30L202.05 58.82L202.10 59.34L202.15 59.86L202.19 60.38L202.24 60.91L202.29 61.43L202.34 61.95L202.39 62.47L202.43 62.99L202.48 63.51L202.53 64.03L202.58 64.54L202.62 65.05L202.67 65.55L202.72 66.06L202.76 66.55L202.81 67.04L202.86 67.52L202.90 68.00L202.95 68.50L202.99 69.01L203.04 69.52L203.09 70.03L203.13 70.55L203.18 71.07L203.23 71.59L203.27 72.11L203.32 72.63L203.37 73.16L203.41 73.68L203.46 74.20L203.51 74.73L203.55 75.25L203.60 75.77L203.64 76.28L203.69 76.79L203.74 77.30L203.78 77.81L203.83 78.31L203.87 78.81L203.92 79.30L203.96 79.79L204.01 80.27L204.05 80.74L204.10 81.21L204.14 81.66L204.19 82.12L204.23 82.56L204.28 82.99L204.32 83.41L204.37 83.83L204.41 84.23L204.46 84.62L204.50 85.00L204.58 85.67L204.66 86.30L204.74 86.89L204.82 87.45L204.90 87.98L204.98 88.49L205.06 88.97L205.14 89.43L205.22 89.88L205.30 90.31L205.37 90.73L205.45 91.15L205.53 91.57L205.61 91.99L205.69 92.41L205.76 92.83L205.84 93.27L205.92 93.73L206.00 94.20L206.08 94.68L206.15 95.16L206.23 95.64L206.30 96.12L206.37 96.60L206.44 97.08L206.51 97.56L206.58 98.03L206.65 98.51L206.72 98.99L206.80 99.47L206.87 99.94L206.95 100.42L207.03 100.90L207.12 101.38L207.21 101.86L207.30 102.34L207.40 102.82L207.50 103.30L207.60 103.76L207.71 104.22L207.81 104.68L207.92 105.14L208.04 105.60L208.15 106.06L208.27 106.52L208.39 106.98L208.51 107.44L208.64 107.90L208.76 108.36L208.89 108.82L209.03 109.28L209.16 109.74L209.30 110.20L209.43 110.66L209.57 111.12" stroke="#ff0000" stroke-width="1.70" stroke-dasharray="5.6 1.38 1 1.38 1 1.38 1 1.33"/>
<path d="M209.57 111.12L209.71 111.58L209.86 112.04L210.00 112.50L210.15 112.96L210.30 113.41L210.46 113.87L210.63 114.32L210.79 114.78L210.97 115.23L211.14 115.69L211.32 116.14L211.49 116.60L211.67 117.05L211.85 117.50L212.02 117.96L212.19 118.41L212.37 118.87L212.53 119.32L212.70 119.78L212.86 120.23L213.01 120.69L213.16 121.14L213.30 121.60L213.44 122.08L213.59 122.56L213.72 123.05L213.86 123.53L214.00 124.01L214.13 124.50L214.26 124.98L214.38 125.47L214.50 125.95L214.62 126.44L214.74 126.92L214.85 127.41L214.95 127.89L215.06 128.38L215.15 128.86L215.25 129.35L215.34 129.83L215.42 130.32L215.50 130.80L215.57 131.28L215.64 131.76L215.69 132.24L215.75 132.72L215.79 133.20L215.83 133.68L215.87 134.16L215.90 134.63L215.93 135.11L215.96 135.59L215.98 136.07L216.01 136.55L216.03 137.04L216.05 137.52L216.08 138.01L216.11 138.50L216.13 139.00L216.17 139.50L216.20 140.00L216.23 140.46L216.26 140.92L216.29 141.39L216.32 141.85L216.35 142.33L216.38 142.80L216.40 143.27L216.43 143.75L216.46 144.23L216.49 144.71L216.51 145.19L216.54 145.67L216.57 146.15L216.61 146.64L216.64 147.12L216.68 147.60L216.72 148.08L216.76 148.56L216.80 149.04L216.85 149.52L216.90 150.00L216.95 150.48L217.01 150.97L217.08 151.46L217.14 151.96L217.21 152.47L217.29 152.97L217.36 153.48L217.44 153.99L217.52 154.50L217.60 155.00L217.68 155.50L217.76 155.99L217.84 156.48L217.91 156.96L217.99 157.43L218.07 157.90L218.14 158.34L218.21 158.78L218.28 159.20L218.34 159.61L218.40 160.00L218.48 160.57L218.55 161.07L218.61 161.50L218.66 161.89L218.70 162.25L218.75 162.60L218.79 162.95L218.84 163.32L218.90 163.72L218.97 164.18L219.06 164.70L219.17 165.30L219.30 166.00L219.37 166.36L219.44 166.75L219.52 167.16L219.60 167.60L219.68 168.05L219.77 168.52L219.86 169.00L219.96 169.50L220.06 170.02L220.16 170.54L220.26 171.07L220.36 171.61L220.47 172.15L220.57 172.69L220.68 173.24L220.79 173.79L220.90 174.33L221.01 174.87L221.13 175.40L221.24 175.92L221.35 176.44L221.46 176.94L221.57 177.43L221.68 177.90L221.79 178.36L221.89 178.79L222.00 179.21L222.10 179.60L222.27 180.21L222.43 180.80L222.60 181.36L222.76 181.89L222.92 182.40L223.08 182.89L223.25 183.36L223.41 183.81L223.58 184.25L223.74 184.67L223.91 185.07L224.09 185.46L224.26 185.85L224.44 186.22L224.62 186.59L224.81 186.95L225.00 187.30L225.28 187.79L225.58 188.25L225.89 188.68L226.20 189.09L226.53 189.48L226.85 189.84L227.17 190.19L227.50 190.51L227.81 190.81L228.12 191.09L228.42 191.35L228.70 191.60L229.16 191.96L229.60 192.24L230.01 192.46L230.42 192.63L230.82 192.76L231.21 192.88L231.60 193.00L231.93 193.11L232.11 193.17L232.28 193.21L232.59 193.23L233.18 193.25L234.20 193.30L234.51 193.32L234.86 193.33L235.23 193.34L235.63 193.36L236.05 193.37L236.49 193.39L236.96 193.40L237.45 193.42L237.95 193.43L238.46 193.45L238.99 193.46L239.53 193.48L240.07 193.49L240.63 193.51L241.18 193.53L241.74 193.55L242.30 193.57L242.86 193.59L243.41 193.61L243.96 193.63" stroke="#ff0000" stroke-width="1.70" stroke-dasharray="5.6 1.38 1 1.38 1 1.38 1 1.33"/>
<path d="M243.96 193.63L244.50 193.66L245.03 193.68L245.54 193.71L246.05 193.74L246.53 193.77L247.00 193.80L247.51 193.84L248.02 193.87L248.52 193.91L249.02 193.94L249.51 193.98L250.00 194.02L250.48 194.06L250.96 194.09L251.43 194.13L251.91 194.18L252.38 194.22L252.85 194.27L253.31 194.32L253.78 194.37L254.24 194.42L254.71 194.48L255.18 194.54L255.64 194.61L256.11 194.68L256.58 194.75L257.05 194.83L257.52 194.91L258.00 195.00L258.48 195.09L258.96 195.19L259.45 195.29L259.94 195.39L260.43 195.50L260.92 195.60L261.41 195.72L261.90 195.83L262.40 195.95L262.89 196.07L263.38 196.20L263.87 196.33L264.36 196.46L264.84 196.60L265.32 196.74L265.80 196.88L266.27 197.03L266.74 197.18L267.21 197.34L267.66 197.50L268.12 197.66L268.56 197.83L269.00 198.00L269.47 198.19L269.94 198.39L270.40 198.58L270.85 198.78L271.30 198.99L271.74 199.19L272.18 199.40L272.61 199.62L273.04 199.84L273.47 200.07L273.89 200.30L274.31 200.54L274.73 200.78L275.14 201.03L275.55 201.29L275.96 201.55L276.37 201.82L276.78 202.11L277.19 202.39L277.59 202.69L278.00 203.00L278.37 203.29L278.74 203.58L279.10 203.88L279.46 204.18L279.82 204.49L280.18 204.81L280.53 205.13L280.89 205.45L281.24 205.79L281.59 206.12L281.94 206.47L282.29 206.82L282.63 207.18L282.98 207.54L283.33 207.91L283.67 208.28L284.02 208.67L284.36 209.06L284.71 209.45L285.06 209.85L285.40 210.26L285.75 210.68L286.10 211.10L286.38 211.44L286.66 211.80L286.94 212.17L287.22 212.55L287.51 212.94L287.79 213.33L288.08 213.74L288.37 214.15L288.65 214.56L288.94 214.99L289.23 215.41L289.51 215.84L289.80 216.27L290.08 216.70L290.37 217.13L290.65 217.56L290.93 217.98L291.21 218.41L291.49 218.83L291.76 219.24L292.03 219.65L292.30 220.05L292.57 220.45L292.83 220.84L293.09 221.21L293.35 221.58L293.61 221.93L293.85 222.27L294.10 222.60L294.47 223.08L294.83 223.55L295.18 224.00L295.53 224.44L295.87 224.86L296.20 225.27L296.53 225.67L296.86 226.06L297.18 226.43L297.49 226.80L297.81 227.16L298.11 227.50L298.42 227.84L298.72 228.17L299.02 228.49L299.32 228.80L299.61 229.11L299.91 229.41L300.20 229.70L300.62 230.12L301.03 230.51L301.43 230.88L301.82 231.23L302.20 231.56L302.58 231.87L302.96 232.17L303.33 232.46L303.70 232.73L304.07 232.98L304.44 233.23L304.82 233.47L305.20 233.70L305.65 233.96L306.11 234.19L306.56 234.40L307.01 234.59L307.47 234.77L307.92 234.93L308.37 235.08L308.83 235.22L309.28 235.35L309.74 235.48L310.20 235.60L310.68 235.71L311.19 235.82L311.72 235.91L312.26 235.99L312.80 236.06L313.32 236.12L313.82 236.18" stroke="#ff0000" stroke-width="1.70" stroke-dasharray="5.6 1.38 1 1.38 1 1.38 1 1.33"/>
<path d="M313.82 236.18L314.27 236.23L314.68 236.27L315.03 236.31L315.30 236.35L315.55 236.35L315.82 236.35L316.09 236.35L316.37 236.35L316.66 236.35L316.96 236.35L317.26 236.35L317.58 236.35L317.90 236.35L318.24 236.35L318.58 236.35L318.92 236.35L319.28 236.35L319.64 236.35L320.02 236.35L320.39 236.35L320.78 236.35L321.17 236.35L321.58 236.35L321.98 236.35L322.40 236.35L322.82 236.35L323.25 236.35L323.69 236.35L324.13 236.35L324.58 236.35L325.03 236.35L325.49 236.35L325.96 236.35L326.43 236.35L326.91 236.35L327.39 236.35L327.88 236.35L328.38 236.35L328.88 236.35L329.38 236.35L329.90 236.35L330.41 236.35L330.93 236.35L331.46 236.35L331.99 236.35L332.52 236.35L333.06 236.35L333.61 236.35L334.15 236.35L334.71 236.35L335.26 236.35L335.82 236.35L336.39 236.35L336.95 236.35L337.52 236.35L338.10 236.35L338.68 236.35L339.26 236.35L339.84 236.35L340.43 236.35L341.02 236.35L341.61 236.35L342.20 236.35L342.80 236.35L343.40 236.35L344.00 236.35L344.61 236.35L345.21 236.35L345.82 236.35L346.43 236.35L347.04 236.35L347.65 236.35L348.27 236.35L348.88 236.35L349.50 236.35L350.12 236.35L350.74 236.35L351.36 236.35L351.98 236.35L352.60 236.35L353.22 236.35L353.84 236.35L354.47 236.35L355.09 236.35L355.71 236.35L356.33 236.35L356.96 236.35L357.58 236.35L358.20 236.35L358.82 236.35L359.44 236.35L360.06 236.35L360.68 236.35L361.30 236.35L361.92 236.35L362.53 236.35L363.15 236.35L363.76 236.35L364.37 236.35L364.98 236.35L365.59 236.35L366.19 236.35L366.80 236.35L367.40 236.35L368.00 236.35L368.60 236.35L369.19 236.35L369.78 236.35L370.37 236.35L370.96 236.35L371.54 236.35L372.12 236.35L372.70 236.35L373.28 236.35L373.85 236.35L374.41 236.35L374.98 236.35L375.54 236.35L376.09 236.35L376.65 236.35L377.19 236.35L377.74 236.35L378.28 236.35L378.81 236.35L379.34 236.35L379.87 236.35L380.39 236.35L380.90 236.35L381.42 236.35L381.92 236.35L382.42 236.35L382.92 236.35L383.41 236.35L383.89 236.35L384.37 236.35L384.84 236.35L385.31 236.35L385.77 236.35L386.22 236.35L386.67 236.35L387.11 236.35L387.55 236.35L387.98 236.35L388.40 236.35L388.82 236.35L389.22 236.35L389.63 236.35L390.02 236.35L390.41 236.35L390.78 236.35L391.16 236.35L391.52 236.35L391.88 236.35L392.22 236.35L392.56 236.35L392.90 236.35L393.22 236.35L393.54 236.35L393.84 236.35L394.14 236.35L394.43 236.35L394.71 236.35L394.98 236.35L395.25 236.35L395.50 236.35" stroke="#ff0000" stroke-width="1.70" stroke-dasharray="5.6 1.38 1 1.38 1 1.38 1 1.33"/>
<path d="M221.1 37.3H253.6" stroke="#000" stroke-width="1.3"/>
<path d="M221.1 53.2H253.6" stroke="#1450ff" stroke-width="1.4" stroke-dasharray="3.8 2.85"/>
<path d="M221.1 69.2H253.9" stroke="#ff0000" stroke-width="1.4" stroke-dasharray="5.6 1.4 1 1.4 1 1.4 1 1.4"/>
</g>
<path d="M265.47 31.90L265.47 38.30L265.08 39.50L264.69 39.90L263.92 40.30L262.75 40.30L261.97 39.90M265.47 33.10L264.69 32.30L263.92 31.90L262.75 31.90L261.97 32.30L261.19 33.10L260.80 34.30L260.80 35.10L261.19 36.30L261.97 37.10L262.75 37.50L263.92 37.50L264.69 37.10L265.47 36.30M272.87 31.90L272.87 37.50M272.87 33.10L272.10 32.30L271.32 31.90L270.15 31.90L269.37 32.30L268.59 33.10L268.20 34.30L268.20 35.10L268.59 36.30L269.37 37.10L270.15 37.50L271.32 37.50L272.10 37.10L272.87 36.30M279.89 33.10L279.50 32.30L278.33 31.90L277.16 31.90L275.99 32.30L275.60 33.10L275.99 33.90L276.77 34.30L278.72 34.70L279.50 35.10L279.89 35.90L279.89 36.30L279.50 37.10L278.33 37.50L277.16 37.50L275.99 37.10L275.60 36.30M282.61 33.90L289.62 33.90M292.74 31.90L292.74 40.30M292.74 33.10L293.52 32.30L294.30 31.90L295.47 31.90L296.24 32.30L297.02 33.10L297.41 34.30L297.41 35.10L297.02 36.30L296.24 37.10L295.47 37.50L294.30 37.50L293.52 37.10L292.74 36.30M300.14 29.10L300.14 37.50M300.14 33.50L301.31 32.30L302.09 31.90L303.26 31.90L304.03 32.30L304.42 33.50L304.42 37.50M311.82 31.90L311.82 37.50M311.82 33.10L311.05 32.30L310.27 31.90L309.10 31.90L308.32 32.30L307.54 33.10L307.15 34.30L307.15 35.10L307.54 36.30L308.32 37.10L309.10 37.50L310.27 37.50L311.05 37.10L311.82 36.30M318.84 33.10L318.45 32.30L317.28 31.90L316.11 31.90L314.94 32.30L314.55 33.10L314.94 33.90L315.72 34.30L317.67 34.70L318.45 35.10L318.84 35.90L318.84 36.30L318.45 37.10L317.28 37.50L316.11 37.50L314.94 37.10L314.55 36.30M321.17 34.30L325.85 34.30L325.85 33.50L325.46 32.70L325.07 32.30L324.29 31.90L323.12 31.90L322.34 32.30L321.56 33.10L321.17 34.30L321.17 35.10L321.56 36.30L322.34 37.10L323.12 37.50L324.29 37.50L325.07 37.10L325.85 36.30M265.47 47.70L265.47 53.30M265.47 48.90L264.69 48.10L263.92 47.70L262.75 47.70L261.97 48.10L261.19 48.90L260.80 50.10L260.80 50.90L261.19 52.10L261.97 52.90L262.75 53.30L263.92 53.30L264.69 52.90L265.47 52.10M272.87 48.90L272.10 48.10L271.32 47.70L270.15 47.70L269.37 48.10L268.59 48.90L268.20 50.10L268.20 50.90L268.59 52.10L269.37 52.90L270.15 53.30L271.32 53.30L272.10 52.90L272.87 52.10M279.89 48.90L279.11 48.10L278.33 47.70L277.16 47.70L276.38 48.10L275.60 48.90L275.21 50.10L275.21 50.90L275.60 52.10L276.38 52.90L277.16 53.30L278.33 53.30L279.11 52.90L279.89 52.10M282.61 47.70L282.61 53.30M282.61 50.10L283.00 48.90L283.78 48.10L284.56 47.70L285.73 47.70M287.29 50.10L291.96 50.10L291.96 49.30L291.57 48.50L291.18 48.10L290.40 47.70L289.23 47.70L288.45 48.10L287.68 48.90L287.29 50.10L287.29 50.90L287.68 52.10L288.45 52.90L289.23 53.30L290.40 53.30L291.18 52.90L291.96 52.10M295.08 44.90L295.08 51.70L295.47 52.90L296.24 53.30L297.02 53.30M293.91 47.70L296.63 47.70M298.97 44.90L299.36 45.30L299.75 44.90L299.36 44.50L298.97 44.90M299.36 47.70L299.36 53.30M304.03 47.70L303.26 48.10L302.48 48.90L302.09 50.10L302.09 50.90L302.48 52.10L303.26 52.90L304.03 53.30L305.20 53.30L305.98 52.90L306.76 52.10L307.15 50.90L307.15 50.10L306.76 48.90L305.98 48.10L305.20 47.70L304.03 47.70M309.88 47.70L309.88 53.30M309.88 49.30L311.05 48.10L311.82 47.70L312.99 47.70L313.77 48.10L314.16 49.30L314.16 53.30M323.51 43.30L316.50 56.10M330.13 44.90L330.13 53.30M330.13 48.90L329.35 48.10L328.57 47.70L327.40 47.70L326.63 48.10L325.85 48.90L325.46 50.10L325.46 50.90L325.85 52.10L326.63 52.90L327.40 53.30L328.57 53.30L329.35 52.90L330.13 52.10M332.86 50.10L337.53 50.10L337.53 49.30L337.14 48.50L336.75 48.10L335.97 47.70L334.81 47.70L334.03 48.10L333.25 48.90L332.86 50.10L332.86 50.90L333.25 52.10L334.03 52.90L334.81 53.30L335.97 53.30L336.75 52.90L337.53 52.10M344.15 48.90L343.76 48.10L342.60 47.70L341.43 47.70L340.26 48.10L339.87 48.90L340.26 49.70L341.04 50.10L342.98 50.50L343.76 50.90L344.15 51.70L344.15 52.10L343.76 52.90L342.60 53.30L341.43 53.30L340.26 52.90L339.87 52.10M348.44 47.70L347.66 48.10L346.88 48.90L346.49 50.10L346.49 50.90L346.88 52.10L347.66 52.90L348.44 53.30L349.61 53.30L350.39 52.90L351.16 52.10L351.55 50.90L351.55 50.10L351.16 48.90L350.39 48.10L349.61 47.70L348.44 47.70M354.28 47.70L354.28 53.30M354.28 50.10L354.67 48.90L355.45 48.10L356.23 47.70L357.40 47.70M359.34 47.70L359.34 56.10M359.34 48.90L360.12 48.10L360.90 47.70L362.07 47.70L362.85 48.10L363.63 48.90L364.02 50.10L364.02 50.90L363.63 52.10L362.85 52.90L362.07 53.30L360.90 53.30L360.12 52.90L359.34 52.10M367.13 44.90L367.13 51.70L367.52 52.90L368.30 53.30L369.08 53.30M365.97 47.70L368.69 47.70M371.03 44.90L371.42 45.30L371.81 44.90L371.42 44.50L371.03 44.90M371.42 47.70L371.42 53.30M376.09 47.70L375.31 48.10L374.53 48.90L374.14 50.10L374.14 50.90L374.53 52.10L375.31 52.90L376.09 53.30L377.26 53.30L378.04 52.90L378.82 52.10L379.21 50.90L379.21 50.10L378.82 48.90L378.04 48.10L377.26 47.70L376.09 47.70M381.93 47.70L381.93 53.30M381.93 49.30L383.10 48.10L383.88 47.70L385.05 47.70L385.83 48.10L386.22 49.30L386.22 53.30M265.08 64.90L264.69 64.10L263.53 63.70L262.36 63.70L261.19 64.10L260.80 64.90L261.19 65.70L261.97 66.10L263.92 66.50L264.69 66.90L265.08 67.70L265.08 68.10L264.69 68.90L263.53 69.30L262.36 69.30L261.19 68.90L260.80 68.10M267.81 63.70L267.81 67.70L268.20 68.90L268.98 69.30L270.15 69.30L270.93 68.90L272.10 67.70M272.10 63.70L272.10 69.30M275.21 63.70L275.21 69.30M275.21 66.10L275.60 64.90L276.38 64.10L277.16 63.70L278.33 63.70M282.61 60.90L281.83 60.90L281.05 61.30L280.66 62.50L280.66 69.30M279.50 63.70L282.22 63.70M289.23 63.70L289.23 69.30M289.23 64.90L288.45 64.10L287.68 63.70L286.51 63.70L285.73 64.10L284.95 64.90L284.56 66.10L284.56 66.90L284.95 68.10L285.73 68.90L286.51 69.30L287.68 69.30L288.45 68.90L289.23 68.10M296.63 64.90L295.86 64.10L295.08 63.70L293.91 63.70L293.13 64.10L292.35 64.90L291.96 66.10L291.96 66.90L292.35 68.10L293.13 68.90L293.91 69.30L295.08 69.30L295.86 68.90L296.63 68.10M298.97 66.10L303.65 66.10L303.65 65.30L303.26 64.50L302.87 64.10L302.09 63.70L300.92 63.70L300.14 64.10L299.36 64.90L298.97 66.10L298.97 66.90L299.36 68.10L300.14 68.90L300.92 69.30L302.09 69.30L302.87 68.90L303.65 68.10M161.00 260.95L161.00 269.20M165.69 263.70L164.91 264.09L164.13 264.88L163.74 266.06L163.74 266.84L164.13 268.02L164.91 268.81L165.69 269.20L166.87 269.20L167.65 268.81L168.43 268.02L168.82 266.84L168.82 266.06L168.43 264.88L167.65 264.09L166.87 263.70L165.69 263.70M175.86 263.70L175.86 269.99L175.47 271.16L175.08 271.56L174.29 271.95L173.12 271.95L172.34 271.56M175.86 264.88L175.08 264.09L174.29 263.70L173.12 263.70L172.34 264.09L171.56 264.88L171.17 266.06L171.17 266.84L171.56 268.02L172.34 268.81L173.12 269.20L174.29 269.20L175.08 268.81L175.86 268.02M181.72 259.38L180.94 260.16L180.16 261.34L179.38 262.91L178.99 264.88L178.99 266.45L179.38 268.41L180.16 269.99L180.94 271.16L181.72 271.95M184.85 260.95L184.85 267.63L185.24 268.81L186.02 269.20L186.81 269.20M183.68 263.70L186.42 263.70M188.76 260.95L189.15 261.34L189.54 260.95L189.15 260.55L188.76 260.95M189.15 263.70L189.15 269.20M192.28 263.70L192.28 269.20M192.28 265.27L193.45 264.09L194.24 263.70L195.41 263.70L196.19 264.09L196.58 265.27L196.58 269.20M196.58 265.27L197.75 264.09L198.54 263.70L199.71 263.70L200.49 264.09L200.88 265.27L200.88 269.20M203.62 266.06L208.31 266.06L208.31 265.27L207.92 264.48L207.53 264.09L206.75 263.70L205.57 263.70L204.79 264.09L204.01 264.88L203.62 266.06L203.62 266.84L204.01 268.02L204.79 268.81L205.57 269.20L206.75 269.20L207.53 268.81L208.31 268.02M220.04 259.38L219.26 260.16L218.48 261.34L217.70 262.91L217.30 264.88L217.30 266.45L217.70 268.41L218.48 269.99L219.26 271.16L220.04 271.95M222.00 263.70L224.34 269.20M226.69 263.70L224.34 269.20L223.56 270.77L222.78 271.56L222.00 271.95L221.60 271.95M229.03 263.70L229.03 269.20M229.03 266.06L229.43 264.88L230.21 264.09L230.99 263.70L232.16 263.70M233.73 259.38L234.51 260.16L235.29 261.34L236.07 262.91L236.46 264.88L236.46 266.45L236.07 268.41L235.29 269.99L234.51 271.16L233.73 271.95M239.20 259.38L239.98 260.16L240.76 261.34L241.55 262.91L241.94 264.88L241.94 266.45L241.55 268.41L240.76 269.99L239.98 271.16L239.20 271.95M5.34 247.81L5.34 247.42L5.73 246.63L6.13 246.24L6.91 245.85L8.49 245.85L9.27 246.24L9.66 246.63L10.06 247.42L10.06 248.20L9.66 248.99L8.88 250.17L4.95 254.10L10.45 254.10M137.98 245.85L134.05 251.35L139.94 251.35M137.98 245.85L137.98 254.10M268.26 247.03L267.86 246.24L266.69 245.85L265.90 245.85L264.72 246.24L263.93 247.42L263.54 249.38L263.54 251.35L263.93 252.92L264.72 253.71L265.90 254.10L266.29 254.10L267.47 253.71L268.26 252.92L268.65 251.74L268.65 251.35L268.26 250.17L267.47 249.38L266.29 248.99L265.90 248.99L264.72 249.38L263.93 250.17L263.54 251.35M394.21 245.85L393.03 246.24L392.64 247.03L392.64 247.81L393.03 248.60L393.82 248.99L395.39 249.38L396.57 249.78L397.36 250.56L397.75 251.35L397.75 252.53L397.36 253.31L396.96 253.71L395.79 254.10L394.21 254.10L393.03 253.71L392.64 253.31L392.25 252.53L392.25 251.35L392.64 250.56L393.43 249.78L394.61 249.38L396.18 248.99L396.96 248.60L397.36 247.81L397.36 247.03L396.96 246.24L395.79 245.85L394.21 245.85M-0.32 227.80L-1.50 228.19L-2.29 229.37L-2.68 231.33L-2.68 232.51L-2.29 234.48L-1.50 235.66L-0.32 236.05L0.46 236.05L1.64 235.66L2.43 234.48L2.82 232.51L2.82 231.33L2.43 229.37L1.64 228.19L0.46 227.80L-0.32 227.80M-1.50 194.74L-0.72 194.35L0.46 193.17L0.46 201.42M-2.29 155.32L-2.29 154.93L-1.90 154.14L-1.50 153.75L-0.72 153.36L0.86 153.36L1.64 153.75L2.04 154.14L2.43 154.93L2.43 155.71L2.04 156.50L1.25 157.68L-2.68 161.61L2.82 161.61M-1.90 113.55L2.43 113.55L0.07 116.69L1.25 116.69L2.04 117.08L2.43 117.48L2.82 118.66L2.82 119.44L2.43 120.62L1.64 121.41L0.46 121.80L-0.72 121.80L-1.90 121.41L-2.29 121.01L-2.68 120.23M1.55 73.74L-2.38 79.24L3.51 79.24M1.55 73.74L1.55 81.99M2.04 33.93L-1.90 33.93L-2.29 37.46L-1.90 37.07L-0.72 36.68L0.46 36.68L1.64 37.07L2.43 37.86L2.82 39.04L2.82 39.82L2.43 41.00L1.64 41.79L0.46 42.18L-0.72 42.18L-1.90 41.79L-2.29 41.39L-2.68 40.61M2.43 -1.52L2.04 -2.31L0.86 -2.70L0.07 -2.70L-1.11 -2.31L-1.90 -1.13L-2.29 0.83L-2.29 2.80L-1.90 4.37L-1.11 5.16L0.07 5.55L0.46 5.55L1.64 5.16L2.43 4.37L2.82 3.19L2.82 2.80L2.43 1.62L1.64 0.83L0.46 0.44L0.07 0.44L-1.11 0.83L-1.90 1.62L-2.29 2.80" fill="none" stroke="#000" stroke-width="0.9" stroke-linecap="round" stroke-linejoin="round"/>
</svg>
</body></html>
